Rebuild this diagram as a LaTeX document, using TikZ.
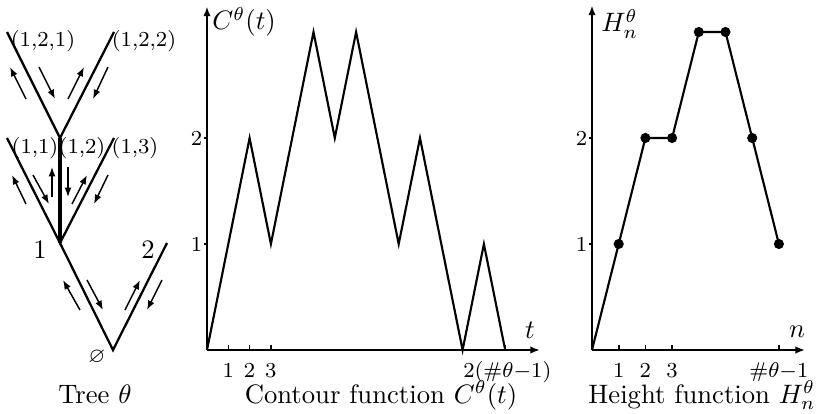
\documentclass[tikz,border=0pt]{standalone}
\usepackage{amssymb}
\usetikzlibrary{arrows.meta}
\begin{document}
\begin{tikzpicture}[x=0.375pt,y=-0.375pt,
  edge/.style={line width=0.85pt},
  thickedge/.style={line width=1.8pt},
  walk/.style={line width=0.55pt,-{Latex[length=3.5pt,width=2.6pt]}},
  axis/.style={line width=0.8pt,-{Latex[length=3.6pt,width=2.8pt]}},
  curve/.style={line width=0.8pt,line join=miter},
  tickmark/.style={line width=0.6pt},
  small lab/.style={font=\footnotesize,inner sep=0pt},
  dot/.style={circle,fill,inner sep=0pt,minimum size=3.8pt}
]
\useasboundingbox (0,0) rectangle (819,414);

% ---------------- Tree ----------------
\coordinate (r) at (113,350);
\coordinate (v1) at (60,243);
\coordinate (v2) at (167,243);
\coordinate (v11) at (7,138);
\coordinate (v12) at (60,138);
\coordinate (v13) at (114,138);
\coordinate (v121) at (7,32);
\coordinate (v122) at (114,32);

\draw[edge] (v1) -- (r) -- (v2);
\draw[edge] (v11) -- (v1) -- (v13);
\draw[thickedge] (v1) -- (v12);
\draw[edge] (v121) -- (v12) -- (v122);

\node[inner sep=0pt] (l1) at (40,250) {1};
\node[inner sep=0pt] (l2) at (148,250) {2};
\node[small lab] (lr) at (97,357) {$\varnothing$};
\node[small lab] (l11) at (35,148) {(1,1)};
\node[small lab] (l12) at (82,148) {(1,2)};
\node[small lab] (l13) at (135,148) {(1,3)};
\node[small lab] (l121) at (43,41) {(1,2,1)};
\node[small lab] (l122) at (144,41) {(1,2,2)};

% contour walk arrows
\draw[walk] (80,310) -- (63,280);
\draw[walk] (87,280) -- (103,310);
\draw[walk] (125,310) -- (140,280);
\draw[walk] (162,280) -- (147,310);
\draw[walk] (26,204) -- (12,175);
\draw[walk] (33,175) -- (49,204);
\draw[walk] (52,197) -- (52,167);
\draw[walk] (68,167) -- (68,197);
\draw[walk] (72,204) -- (87,175);
\draw[walk] (108,175) -- (94,204);
\draw[walk] (26,99) -- (10,67);
\draw[walk] (39,67) -- (55,99);
\draw[walk] (68,99) -- (84,67);
\draw[walk] (108,67) -- (93,99);

\node[anchor=base] (capT) at (95,403) {Tree $\theta$};

% ---------------- Contour function ----------------
\begin{scope}[shift={(207,350)},x=7.9875pt,y=39.75pt]
  \coordinate (co) at (0,0);
  \coordinate (cx) at (15.63,0);
  \coordinate (cy) at (0,3.24);
  \draw[axis] (co) -- (cx);
  \draw[axis] (co) -- (cy);
  \foreach \t in {1,2,3,14} \draw[tickmark] (\t,0) -- (\t,0.05);
  \foreach \h in {1,2} \draw[tickmark] (0,\h) -- (-0.12,\h);
  \foreach \t in {1,2,3} \node[small lab,anchor=base] at (\t,-0.255) {\t};
  \node[small lab,anchor=base] (cend) at (14.1,-0.255) {$2(\#\theta{-}1)$};
  \node[small lab,anchor=east] (cy1) at (-0.2,1) {1};
  \node[small lab,anchor=east] (cy2) at (-0.2,2) {2};
  \draw[curve] plot coordinates {(0,0) (1,1) (2,2) (3,1) (4,2) (5,3) (6,2) (7,3) (8,2) (9,1) (10,2) (11,1) (12,0) (13,1) (14,0)};
  \node[anchor=base west,inner sep=0pt] (clab) at (0.23,3.02) {$C^\theta(t)$};
  \node[anchor=base,inner sep=0pt] (tlab) at (15.16,0.113) {$t$};
\end{scope}
\node[anchor=base] (capC) at (381,403) {Contour function $C^\theta(t)$};

% ---------------- Height function ----------------
\begin{scope}[shift={(592,350)},x=10.0125pt,y=39.75pt]
  \coordinate (ho) at (0,0);
  \coordinate (hx) at (7.98,0);
  \coordinate (hy) at (0,3.25);
  \draw[axis] (ho) -- (hx);
  \draw[axis] (ho) -- (hy);
  \foreach \t in {1,2,3,7} \draw[tickmark] (\t,0) -- (\t,0.05);
  \foreach \h in {1,2} \draw[tickmark] (0,\h) -- (-0.1,\h);
  \foreach \t in {1,2,3} \node[small lab,anchor=base] at (\t,-0.255) {\t};
  \node[small lab,anchor=base] (hend) at (7,-0.255) {$\#\theta{-}1$};
  \node[small lab,anchor=east] (hy1) at (-0.16,1) {1};
  \node[small lab,anchor=east] (hy2) at (-0.16,2) {2};
  \draw[curve] plot coordinates {(0,0) (1,1) (2,2) (3,2) (4,3) (5,3) (6,2) (7,1)};
  \foreach \n/\h in {1/1,2/2,3/2,4/3,5/3,6/2,7/1}
    \node[dot] (d\n) at (\n,\h) {};
  \node[anchor=base west,inner sep=0pt] (hlab) at (0.33,3.0) {$H^\theta_n$};
  \node[anchor=base,inner sep=0pt] (nlab) at (7.68,0.12) {$n$};
\end{scope}
\node[anchor=base] (capH) at (702,403) {Height function $H^\theta_n$};
\end{tikzpicture}
\end{document}
